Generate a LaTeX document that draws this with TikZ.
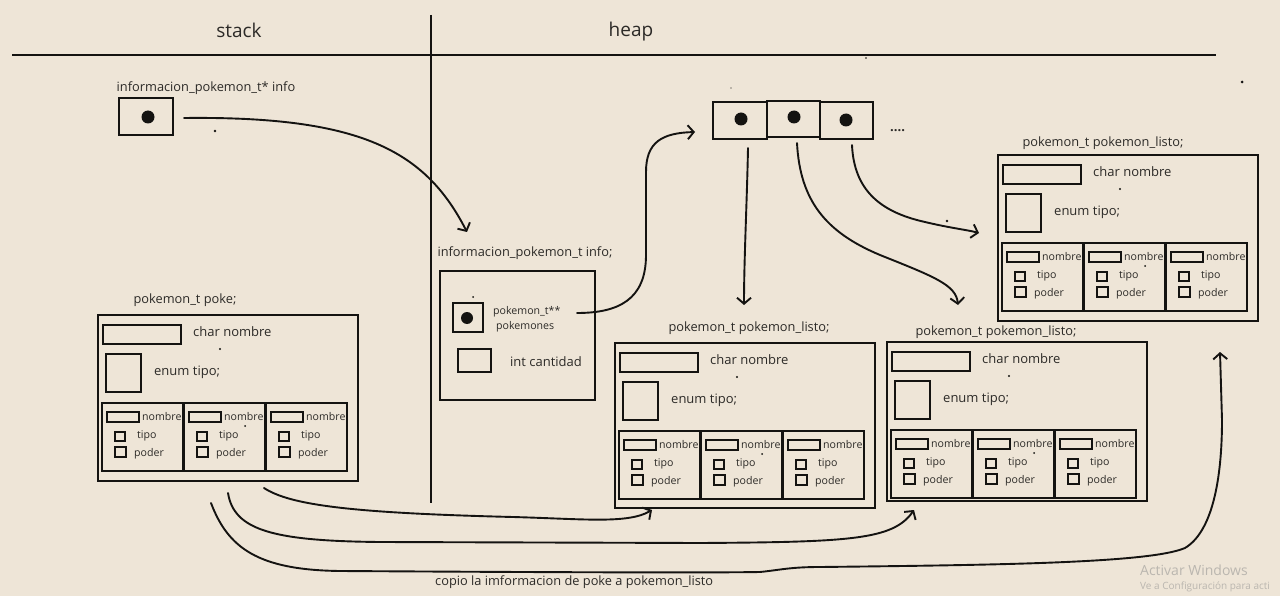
\documentclass[tikz,border=0pt]{standalone}
\usepackage{fontspec}
\setmainfont{Open Sans}
\usetikzlibrary{arrows.meta,calc}
\definecolor{paper}{HTML}{EEE5D7}
\definecolor{ink}{HTML}{141311}
\definecolor{txt}{HTML}{2C2A27}
\definecolor{wm}{HTML}{BAB6AF}
\tikzset{
  box/.style={draw=ink, line width=2pt, inner sep=0pt, outer sep=0pt},
  lab/.style={inner sep=0pt, text=txt, font=\fontsize{12.8}{14}\selectfont},
  mid/.style={inner sep=0pt, text=txt, font=\fontsize{13}{15}\selectfont},
  sm/.style={inner sep=0pt, text=txt, font=\fontsize{10.6}{12}\selectfont},
  big/.style={inner sep=0pt, text=txt, font=\fontsize{19}{22}\selectfont},
  rule/.style={draw=ink, line width=1.9pt},
  harrow/.style={draw=ink, line width=1.9pt, line cap=round, line join=round,
    -{Straight Barb[length=6pt,width=14pt]}},
  pkbox/.pic={
    \node[box, anchor=north west, minimum width=260pt, minimum height=#1] (-out) at (0,0) {};
    \node[box, anchor=north west, minimum width=78pt, minimum height=19pt] (-name) at (5,10) {};
    \node[mid, anchor=west] (-namet) at (95,17) {char nombre};
    \fill[ink] (122,34) circle (1.1pt);
    \node[box, anchor=north west, minimum width=35pt, minimum height=38pt] (-enum) at (8,39) {};
    \node[mid, anchor=west] (-enumt) at (56,57) {enum tipo;};
    \foreach \i/\sx in {1/4,2/86,3/168}{
      \node[box, anchor=north west, minimum width=81pt, minimum height=68pt] (-s\i) at (\sx,88) {};
      \node[box, anchor=north west, minimum width=32pt, minimum height=10pt] (-s\i-n) at (\sx+5,97) {};
      \node[sm, anchor=west] (-s\i-nt) at (\sx+40,102) {nombre};
      \node[box, anchor=north west, minimum width=10pt, minimum height=9pt] (-s\i-t) at (\sx+13,117) {};
      \node[sm, anchor=west] (-s\i-tt) at (\sx+35,121) {tipo};
      \node[box, anchor=north west, minimum width=11pt, minimum height=10pt] (-s\i-p) at (\sx+13,132) {};
      \node[sm, anchor=west] (-s\i-pt) at (\sx+32,139) {poder};
    }
    \fill[ink] (147,111) circle (1pt);
  }
}
\begin{document}
\begin{tikzpicture}[x=1pt,y=-1pt]
\fill[paper] (0,0) rectangle (1280,596);
\useasboundingbox (0,0) rectangle (1280,596);

% frame lines
\coordinate (hl0) at (12,55);
\coordinate (hl1) at (1216,55);
\coordinate (vl0) at (431,15);
\coordinate (vl1) at (431,503);
\draw[rule] (hl0) -- (hl1);
\draw[rule] (vl0) -- (vl1);
\node[big] (stack) at (239,30) {stack};
\node[big] (heap) at (631,32) {heap};

% stack pointer
\node[lab] (infoL) at (206,88) {informacion\_pokemon\_t* info};
\node[box, anchor=north west, minimum width=54pt, minimum height=37pt] (infoP) at (119,98) {};
\fill[ink] (148,117) circle (6.5pt);
\fill[ink] (215,131) circle (1.3pt);

% heap info struct
\node[lab] (hinfoL) at (525,253) {informacion\_pokemon\_t info;};
\node[box, anchor=north west, minimum width=155pt, minimum height=129pt] (hinfo) at (440,271) {};
\node[box, anchor=north west, minimum width=30pt, minimum height=29pt] (pkptr) at (453,303) {};
\fill[ink] (467,318) circle (6pt);
\fill[ink] (473,297) circle (1pt);
\node[sm, anchor=west] (pkptrT1) at (493,312) {pokemon\_t**};
\node[sm, anchor=west] (pkptrT2) at (496,327) {pokemones};
\node[box, anchor=north west, minimum width=33pt, minimum height=23pt] (cant) at (458,349) {};
\node[mid, anchor=west] (cantT) at (510,362) {int cantidad};

% array of pointers
\node[box, anchor=north west, minimum width=54pt, minimum height=37pt] (arr1) at (713,102) {};
\node[box, anchor=north west, minimum width=53pt, minimum height=36pt] (arr2) at (767,101) {};
\node[box, anchor=north west, minimum width=53pt, minimum height=37pt] (arr3) at (820,102) {};
\fill[ink] (741,119) circle (6.5pt);
\fill[ink] (794,117) circle (6.5pt);
\fill[ink] (846,120) circle (6.5pt);
\node[mid, anchor=west] (more) at (890,131) {\textbf{....}};
\fill[ink] (866,58) circle (0.9pt);
\fill[ink] (731,88) circle (0.7pt);
\fill[ink] (1242,82) circle (1.5pt);
\fill[ink] (947,221) circle (1.3pt);

% pokemon structs
\node[lab] (pkL) at (185,300) {pokemon\_t poke;};
\pic (pk) at (98,315) {pkbox=166pt};
\node[lab] (pl1L) at (749,328) {pokemon\_t pokemon\_listo;};
\pic (pl1) at (615,343) {pkbox=165pt};
\node[lab] (pl2L) at (996,332) {pokemon\_t pokemon\_listo;};
\pic (pl2) at (887,342) {pkbox=159pt};
\node[lab] (pl3L) at (1103,143) {pokemon\_t pokemon\_listo;};
\pic (pl3) at (998,155) {pkbox=166pt};

% connectors
\coordinate (a0s) at (184,118);
\coordinate (a0e) at (467,232);
\draw[harrow] (a0s) .. controls (360,116) and (425,150) .. (a0e);

\coordinate (a1s) at (577,313);
\coordinate (a1e) at (695,132);
\draw[harrow] (a1s) .. controls (618,313) and (646,300) .. (646,255) -- (646,172)
  .. controls (646,142) and (662,133) .. (a1e);

\coordinate (b1s) at (748,148);
\coordinate (b1e) at (744,305);
\draw[harrow] (b1s) .. controls (747,200) and (744,260) .. (b1e);

\coordinate (b2s) at (797,143);
\coordinate (b2e) at (958,305);
\draw[harrow] (b2s) .. controls (800,200) and (825,232) .. (880,255)
  .. controls (935,277) and (956,285) .. (b2e);

\coordinate (b3s) at (852,145);
\coordinate (b3e) at (979,233);
\draw[harrow] (b3s) .. controls (854,190) and (880,212) .. (925,222)
  .. controls (950,228) and (968,230) .. (b3e);

\coordinate (c1s) at (264,488);
\coordinate (c1e) at (652,510);
\draw[harrow] (c1s) .. controls (290,505) and (350,513) .. (513,517)
  .. controls (585,519) and (628,524) .. (c1e);

\coordinate (c2s) at (228,493);
\coordinate (c2e) at (914,510);
\draw[harrow] (c2s) .. controls (234,530) and (272,541) .. (380,542) -- (700,543)
  .. controls (850,542) and (893,540) .. (c2e);

\coordinate (c3s) at (211,503);
\coordinate (c3e) at (1220,352);
\draw[harrow] (c3s) .. controls (228,548) and (258,570) .. (340,571)
  .. controls (500,572) and (700,573) .. (760,572)
  .. controls (780,570) and (790,567) .. (820,567)
  .. controls (1000,565) and (1150,563) .. (1185,548)
  .. controls (1215,530) and (1222,470) .. (1222,420) -- (c3e);

\node[lab, anchor=west] (note) at (435,582) {copio la imformacion de poke a pokemon\_listo};

% watermark
\node[inner sep=0pt, text=wm, anchor=west, font=\fontsize{14}{16}\selectfont] (wm1) at (1140,570) {Activar Windows};
\node[inner sep=0pt, text=wm, anchor=west, font=\fontsize{10}{12}\selectfont] (wm2) at (1140,587) {Ve a Configuración para acti};
\end{tikzpicture}
\end{document}
